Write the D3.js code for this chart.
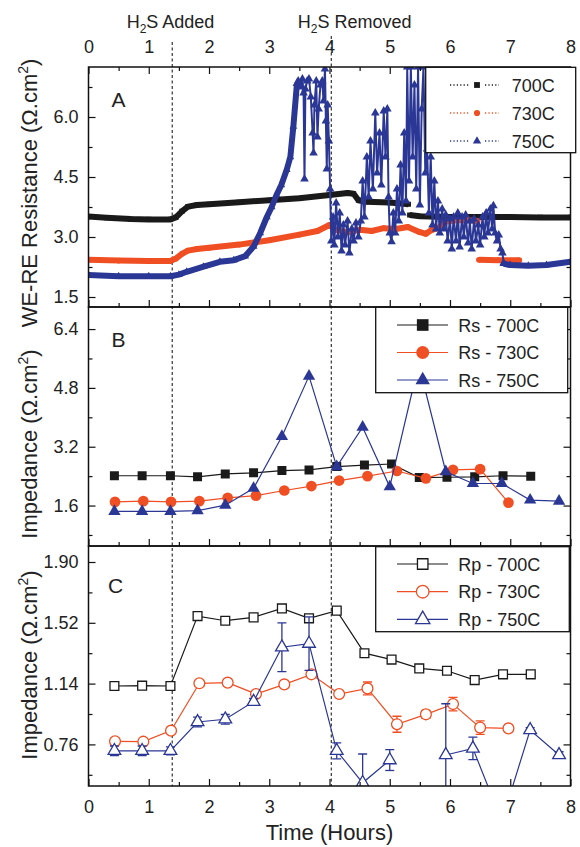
<!DOCTYPE html>
<html>
<head>
<meta charset="utf-8">
<title>WE-RE resistance and impedance vs time</title>
<script src="https://cdn.jsdelivr.net/npm/d3@7"></script>
<style>
  body { margin: 0; background: #fff; }
  svg { display: block; }
  svg text { font-family: "Liberation Sans", Arial, sans-serif; fill: #222; }
</style>
</head>
<body>
<div id="chart"></div>
<script>
// values
const timeTicks = [0, 1, 2, 3, 4, 5, 6, 7, 8];
const timeMinor = [0.5, 1.5, 2.5, 3.5, 4.5, 5.5, 6.5, 7.5];
const h2sAddedAt = 1.39;
const h2sRemovedAt = 4.03;

const yTicksA = [1.5, 3.0, 4.5, 6.0];
const yMinorA = [2.25, 3.75, 5.25, 6.75];
const yTicksB = [1.6, 3.2, 4.8, 6.4];
const yMinorB = [0.8, 2.4, 4.0, 5.6];
const yTicksC = [0.76, 1.14, 1.52, 1.90];
const yMinorC = [0.57, 0.95, 1.33, 1.71];

const colors = ['#1a1a1a', '#f04e23', '#2b3795'];
const legendA = ['700C', '730C', '750C'];
const legendB = ['Rs - 700C', 'Rs - 730C', 'Rs - 750C'];
const legendC = ['Rp - 700C', 'Rp - 730C', 'Rp - 750C'];

// panel A: [hours, ohm.cm2], null breaks the trace
const were700 = [[0, 3.51], [0.3, 3.48], [0.7, 3.45], [1.0, 3.44], [1.36, 3.44], [1.45, 3.49], [1.55, 3.64],
    [1.65, 3.76], [1.8, 3.80], [2.0, 3.82], [2.5, 3.87], [3.0, 3.92], [3.5, 3.97], [4.0, 4.05], [4.3, 4.10],
    [4.4, 4.08], [4.48, 3.92], [4.6, 3.88], [5.0, 3.86], [5.31, 3.82], [5.32, null], [5.33, 3.55], [5.5, 3.52],
    [6.0, 3.50], [6.5, 3.50], [7.0, 3.50], [7.5, 3.49], [8.0, 3.49]];
const were730 = [[0, 2.43], [0.5, 2.41], [1.0, 2.40], [1.36, 2.40], [1.45, 2.46], [1.55, 2.58], [1.65, 2.66],
    [1.8, 2.70], [2.0, 2.73], [2.5, 2.81], [3.0, 2.92], [3.5, 3.06], [3.8, 3.15], [4.0, 3.30], [4.1, 3.18],
    [4.3, 3.12], [4.5, 3.18], [4.7, 3.15], [4.9, 3.22], [5.1, 3.20], [5.3, 3.25], [5.5, 3.12], [5.6, 3.08],
    [5.7, 3.18], [5.8, 3.22], [5.92, 3.38], [6.1, 3.42], [6.3, 3.42], [6.46, 3.40], [6.47, null], [6.48, 2.43],
    [6.8, 2.42], [7.15, 2.42]];
const were750Rise = [[0, 2.05], [0.5, 2.02], [1.0, 2.02], [1.36, 2.02], [1.5, 2.06], [1.63, 2.13], [1.91, 2.26],
    [2.18, 2.38], [2.41, 2.42], [2.6, 2.52], [2.74, 2.76], [2.85, 3.1], [2.96, 3.5], [3.04, 3.75], [3.12, 4.05],
    [3.2, 4.3], [3.29, 4.68], [3.35, 5.0], [3.40, 5.76], [3.46, 6.84]];
const were750Spikes = [[3.46, 6.84], [3.48, 6.9], [3.52, 6.75], [3.55, 6.95], [3.57, 6.6], [3.585, 4.45],
    [3.60, 6.7], [3.63, 6.9], [3.66, 6.95], [3.69, 6.5], [3.72, 5.6], [3.735, 5.1], [3.75, 6.3], [3.78, 6.9],
    [3.80, 5.5], [3.82, 6.2], [3.85, 6.8], [3.88, 6.9], [3.90, 6.4], [3.925, 7.2], [3.94, 5.9], [3.955, 4.7],
    [3.97, 6.3], [3.99, 5.4], [4.01, 4.2], [4.03, 2.9],
    [4.06, 3.5], [4.08, 2.8], [4.11, 3.85], [4.14, 3.0], [4.17, 3.6], [4.20, 2.65], [4.23, 3.3], [4.26, 2.8],
    [4.30, 3.4], [4.33, 2.6], [4.37, 3.2], [4.40, 2.9], [4.44, 3.35], [4.48, 3.0],
    [4.52, 3.4], [4.55, 4.4], [4.58, 3.5], [4.62, 5.0], [4.65, 4.0], [4.68, 5.4], [4.72, 4.2], [4.76, 6.1],
    [4.79, 4.6], [4.83, 5.6], [4.86, 4.3], [4.90, 6.15], [4.93, 5.0], [4.96, 6.2], [4.98, 4.0], [5.00, 3.1],
    [5.03, 2.88], [5.06, 3.6], [5.09, 3.1], [5.12, 4.2], [5.15, 3.4], [5.18, 4.8], [5.21, 3.6], [5.24, 5.6],
    [5.27, 3.9], [5.29, 7.25], [5.32, 4.4], [5.35, 7.25], [5.38, 5.0], [5.41, 6.8], [5.44, 4.2], [5.47, 7.25],
    [5.50, 3.8], [5.53, 6.2], [5.56, 7.25], [5.59, 4.6], [5.62, 5.2], [5.65, 3.6], [5.68, 5.0], [5.71, 3.3],
    [5.74, 4.4], [5.77, 3.2], [5.80, 3.9], [5.83, 3.1], [5.87, 3.7], [5.90, 3.2], [5.93, 3.55], [5.96, 2.9],
    [6.00, 3.45], [6.03, 2.7], [6.06, 3.5], [6.10, 2.9], [6.13, 3.6], [6.16, 2.75], [6.20, 3.5], [6.23, 3.0],
    [6.26, 3.55], [6.30, 2.85], [6.33, 3.4], [6.36, 2.7], [6.40, 3.45], [6.43, 2.9], [6.47, 3.3], [6.50, 2.8],
    [6.54, 3.5], [6.57, 3.0], [6.60, 3.6], [6.63, 3.1], [6.67, 3.7], [6.70, 3.2], [6.72, 3.78], [6.75, 3.1],
    [6.78, 2.9], [6.81, 3.05], [6.84, 2.7], [6.87, 2.6], [6.89, 2.35]];
const were750Tail = [[6.89, 2.33], [7.0, 2.30], [7.3, 2.28], [7.6, 2.30], [8.0, 2.38]];

// panel B: Rs
const rsTime700 = [0.43, 0.89, 1.36, 1.81, 2.27, 2.74, 3.21, 3.66, 4.12, 4.58, 5.03, 5.49, 5.95, 6.41, 6.88, 7.34];
const rs700 = [2.41, 2.41, 2.41, 2.38, 2.46, 2.49, 2.55, 2.57, 2.66, 2.70, 2.73, 2.36, 2.37, 2.38, 2.41, 2.40];
const rsTime730 = [0.44, 0.91, 1.37, 1.84, 2.31, 2.78, 3.25, 3.70, 4.16, 4.63, 5.12, 5.60, 6.05, 6.50, 6.97];
const rs730 = [1.70, 1.72, 1.70, 1.72, 1.81, 1.87, 2.01, 2.13, 2.28, 2.40, 2.54, 2.34, 2.57, 2.59, 1.68];
const rsTime750 = [0.43, 0.89, 1.36, 1.81, 2.27, 2.74, 3.21, 3.66, 4.12, 4.55, 5.00, 5.48, 5.93, 6.38, 6.86, 7.33, 7.81];
const rs750 = [1.44, 1.44, 1.44, 1.46, 1.61, 2.07, 3.48, 5.12, 2.66, 3.73, 2.11, 5.45, 2.52, 2.20, 2.20, 1.75, 1.72];

// panel C: Rp with error
const rp700 = [1.125, 1.127, 1.125, 1.562, 1.533, 1.554, 1.61, 1.548, 1.596, 1.33, 1.29, 1.235, 1.22, 1.162, 1.198, 1.198];
const rp700Err = [0.012, 0.012, 0.012, 0.012, 0.012, 0.012, 0.012, 0.012, 0.012, 0.012, 0.012, 0.012, 0.012, 0.012, 0.012, 0.012];
const rp730 = [0.779, 0.777, 0.846, 1.142, 1.146, 1.075, 1.135, 1.198, 1.075, 1.11, 0.886, 0.948, 1.012, 0.865, 0.86];
const rp730Err = [0.015, 0.015, 0.012, 0.015, 0.015, 0.012, 0.012, 0.012, 0.012, 0.04, 0.05, 0.025, 0.042, 0.042, 0.01];
const rp750 = [0.72, 0.72, 0.72, 0.90, 0.917, 1.027, 1.367, 1.39, 0.72, 0.52, 0.662, null, 0.694, 0.735, 0.28, 0.85, 0.694];
const rp750Err = [0.03, 0.03, 0.025, 0.03, 0.03, 0.02, 0.152, 0.167, 0.05, 0.18, 0.065, 0, 0.32, 0.07, 0, 0.015, 0.02];

const zip = (t, v, e) => t.map((d, i) => [d, v[i], e ? e[i] : 0]);

const svg = d3.select('#chart')
    .append('svg')
    .attr('width', 580)
    .attr('height', 847);

const x = d3.scaleLinear().domain([0, 8]).range([88.5, 570.5]);
const left = x.range()[0], right = x.range()[1];

// H2S event lines run through all three panels
svg.append('g')
    .attr('class', 'events')
    .selectAll('line')
    .data([[h2sAddedAt, 42], [h2sRemovedAt, 36]])
    .enter()
    .append('line')
    .attr('x1', d => x(d[0]))
    .attr('x2', d => x(d[0]))
    .attr('y1', d => d[1])
    .attr('y2', 786)
    .attr('stroke', '#333')
    .attr('stroke-width', 1.2)
    .attr('stroke-dasharray', '3,2.5');

function styleAxis(g) {
    g.selectAll('.domain').remove();
    g.selectAll('.tick line').attr('stroke', '#111').attr('stroke-width', 1.2);
    g.selectAll('text').attr('font-size', 18);
}

function makePanel(id, top, bottom, domain, ticks, minor, fmt, labelBottom) {
    const y = d3.scaleLinear().domain(domain).range([bottom, top]);
    const g = svg.append('g').attr('class', 'panel' + id);

    g.append('clipPath')
        .attr('id', 'clip' + id)
        .append('rect')
        .attr('x', left)
        .attr('y', top)
        .attr('width', right - left)
        .attr('height', bottom - top);

    const plot = g.append('g').attr('clip-path', 'url(#clip' + id + ')');
    const axes = g.append('g').attr('class', 'axes');

    axes.append('g').attr('transform', `translate(${left},0)`)
        .call(d3.axisLeft(y).tickValues(ticks).tickFormat(d3.format(fmt)).tickSize(-7).tickPadding(10));
    axes.append('g').attr('transform', `translate(${left},0)`)
        .call(d3.axisLeft(y).tickValues(minor).tickFormat('').tickSize(-4));
    axes.append('g').attr('transform', `translate(${right},0)`)
        .call(d3.axisRight(y).tickValues(ticks).tickFormat('').tickSize(-7));
    axes.append('g').attr('transform', `translate(${right},0)`)
        .call(d3.axisRight(y).tickValues(minor).tickFormat('').tickSize(-4));
    axes.append('g').attr('transform', `translate(0,${bottom})`)
        .call(d3.axisBottom(x).tickValues(timeTicks).tickFormat(labelBottom ? d3.format('d') : '').tickSize(-7).tickPadding(14));
    axes.append('g').attr('transform', `translate(0,${bottom})`)
        .call(d3.axisBottom(x).tickValues(timeMinor).tickFormat('').tickSize(-4));

    axes.append('rect')
        .attr('x', left)
        .attr('y', top)
        .attr('width', right - left)
        .attr('height', bottom - top)
        .attr('fill', 'none')
        .attr('stroke', '#111')
        .attr('stroke-width', 1.5);

    axes.call(styleAxis);
    return { y, g, plot, axes };
}

const pA = makePanel('A', 67, 307, [1.25, 7.25], yTicksA, yMinorA, '.1f', false);
const pB = makePanel('B', 307, 546, [0.5, 7.0], yTicksB, yMinorB, '.1f', false);
const pC = makePanel('C', 546, 786, [0.5, 2.0], yTicksC, yMinorC, '.2f', true);

// top time axis on panel A
pA.axes.append('g').attr('transform', 'translate(0,67)')
    .call(d3.axisTop(x).tickValues(timeTicks).tickFormat(d3.format('d')).tickSize(-7).tickPadding(14))
    .call(styleAxis);
pA.axes.append('g').attr('transform', 'translate(0,67)')
    .call(d3.axisTop(x).tickValues(timeMinor).tickFormat('').tickSize(-4))
    .call(styleAxis);

const symbols = [d3.symbolSquare, d3.symbolCircle, d3.symbolTriangle];
const lineFor = y => d3.line()
    .defined(d => d[1] !== null)
    .x(d => x(d[0]))
    .y(d => y(d[1]));

function markers(parent, y, data, color, symbol, size, open) {
    parent.append('g')
        .selectAll('path')
        .data(data.filter(d => d[1] !== null))
        .enter()
        .append('path')
        .attr('transform', d => `translate(${x(d[0])},${y(d[1])})`)
        .attr('d', d3.symbol().type(symbol).size(size))
        .attr('fill', open ? '#fff' : color)
        .attr('stroke', open ? color : 'none')
        .attr('stroke-width', 1.3);
}

// ---- panel A: dense logged traces ----
function band(y, data, color, symbol) {
    pA.plot.append('path')
        .datum(data)
        .attr('d', lineFor(y))
        .attr('fill', 'none')
        .attr('stroke', color)
        .attr('stroke-width', 6)
        .attr('stroke-linejoin', 'round');
    markers(pA.plot, y, data, color, symbol, 26);
}

band(pA.y, were700, colors[0], symbols[0]);
band(pA.y, were730, colors[1], symbols[1]);
band(pA.y, were750Rise, colors[2], symbols[2]);
band(pA.y, were750Tail, colors[2], symbols[2]);

// spiky stretch after the triangles pile up
pA.plot.append('path')
    .datum(were750Spikes)
    .attr('d', lineFor(pA.y))
    .attr('fill', 'none')
    .attr('stroke', colors[2])
    .attr('stroke-width', 2)
    .attr('stroke-linejoin', 'round');
markers(pA.plot, pA.y, were750Spikes, colors[2], symbols[2], 32);

// ---- panels B and C ----
function series(panel, data, color, symbol, size, open) {
    panel.plot.append('path')
        .datum(data)
        .attr('d', lineFor(panel.y))
        .attr('fill', 'none')
        .attr('stroke', color)
        .attr('stroke-width', 1.2);

    const bars = panel.plot.append('g')
        .selectAll('g')
        .data(data.filter(d => d[1] !== null && d[2] > 0))
        .enter()
        .append('g')
        .attr('stroke', color)
        .attr('stroke-width', 1.3);
    bars.append('line')
        .attr('x1', d => x(d[0])).attr('x2', d => x(d[0]))
        .attr('y1', d => panel.y(d[1] - d[2])).attr('y2', d => panel.y(d[1] + d[2]));
    [-1, 1].forEach(s => {
        bars.append('line')
            .attr('x1', d => x(d[0]) - 4.5).attr('x2', d => x(d[0]) + 4.5)
            .attr('y1', d => panel.y(d[1] + s * d[2])).attr('y2', d => panel.y(d[1] + s * d[2]));
    });

    markers(panel.plot, panel.y, data, color, symbol, size, open);
}

const sizesB = [81, 90, 66];
series(pB, zip(rsTime700, rs700), colors[0], symbols[0], sizesB[0], false);
series(pB, zip(rsTime730, rs730), colors[1], symbols[1], sizesB[1], false);
series(pB, zip(rsTime750, rs750), colors[2], symbols[2], sizesB[2], false);

const sizesC = [78, 92, 70];
series(pC, zip(rsTime700, rp700, rp700Err), colors[0], symbols[0], sizesC[0], true);
series(pC, zip(rsTime730, rp730, rp730Err), colors[1], symbols[1], sizesC[1], true);
series(pC, zip(rsTime750, rp750, rp750Err), colors[2], symbols[2], sizesC[2], true);

// ---- legends ----
function legend(g, box, labels, opt) {
    const lg = g.append('g').attr('class', 'legend');
    lg.append('rect')
        .attr('x', box[0]).attr('y', box[1])
        .attr('width', box[2]).attr('height', box[3])
        .attr('fill', '#fff')
        .attr('stroke', '#111')
        .attr('stroke-width', 1.3);

    const rows = lg.selectAll('g.row')
        .data(labels)
        .enter()
        .append('g')
        .attr('class', 'row')
        .attr('transform', (d, i) => `translate(0,${box[1] + opt.first + i * opt.step})`);

    opt.segments.forEach(s => {
        rows.append('line')
            .attr('x1', s[0]).attr('x2', s[1])
            .attr('stroke', (d, i) => colors[i])
            .attr('stroke-width', opt.dotted ? 1.3 : 1.2)
            .attr('stroke-dasharray', opt.dotted ? '1.2,2.2' : null);
    });
    rows.append('path')
        .attr('transform', `translate(${opt.mark},0)`)
        .attr('d', (d, i) => d3.symbol().type(symbols[i]).size(opt.sizes[i])())
        .attr('fill', (d, i) => opt.open ? '#fff' : colors[i])
        .attr('stroke', (d, i) => opt.open ? colors[i] : 'none')
        .attr('stroke-width', 1.3);
    rows.append('text')
        .attr('x', opt.text)
        .attr('y', 6.5)
        .attr('font-size', 18)
        .text(d => d);
}

legend(pA.g, [425.7, 67.3, 150, 85.4], legendA,
    { first: 17.7, step: 28, segments: [[450, 469], [485, 499]], mark: 477, text: 511.7, sizes: [34, 30, 30], dotted: true });
legend(pB.g, [375.7, 307.3, 192, 85.4], legendB,
    { first: 17.7, step: 27.5, segments: [[397, 448]], mark: 422.7, text: 458.3, sizes: [136, 133, 90] });
legend(pC.g, [375.7, 546.7, 193.6, 85], legendC,
    { first: 17.3, step: 27.7, segments: [[397, 448]], mark: 422.7, text: 458.3, sizes: [110, 125, 90], open: true });

// ---- panel letters and titles ----
[[pA, 'A', 111.5, 106.7], [pB, 'B', 111.5, 346.7], [pC, 'C', 108, 593]].forEach(p => {
    p[0].g.append('text')
        .attr('x', p[2])
        .attr('y', p[3])
        .attr('font-size', 21)
        .text(p[1]);
});

function yTitle(label, cy) {
    const t = svg.append('text')
        .attr('transform', `translate(37,${cy}) rotate(-90)`)
        .attr('text-anchor', 'middle')
        .attr('font-size', 22);
    t.append('tspan').text(label + ' (\u03A9.cm');
    t.append('tspan').attr('font-size', 14).attr('dy', -9).text('2');
    t.append('tspan').attr('dy', 9).text(')');
}
yTitle('WE-RE Resistance', 193);
yTitle('Impedance', 444);
yTitle('Impedance', 665);

svg.append('text')
    .attr('x', x(4))
    .attr('y', 840)
    .attr('text-anchor', 'middle')
    .attr('font-size', 22)
    .text('Time (Hours)');

function h2sLabel(rest, cx) {
    const t = svg.append('text')
        .attr('x', cx)
        .attr('y', 28)
        .attr('text-anchor', 'middle')
        .attr('font-size', 18);
    t.append('tspan').text('H');
    t.append('tspan').attr('font-size', 12).attr('dy', 5).text('2');
    t.append('tspan').attr('dy', -5).text('S ' + rest);
}
h2sLabel('Added', 170.5);
h2sLabel('Removed', 354.6);
</script>
</body>
</html>
